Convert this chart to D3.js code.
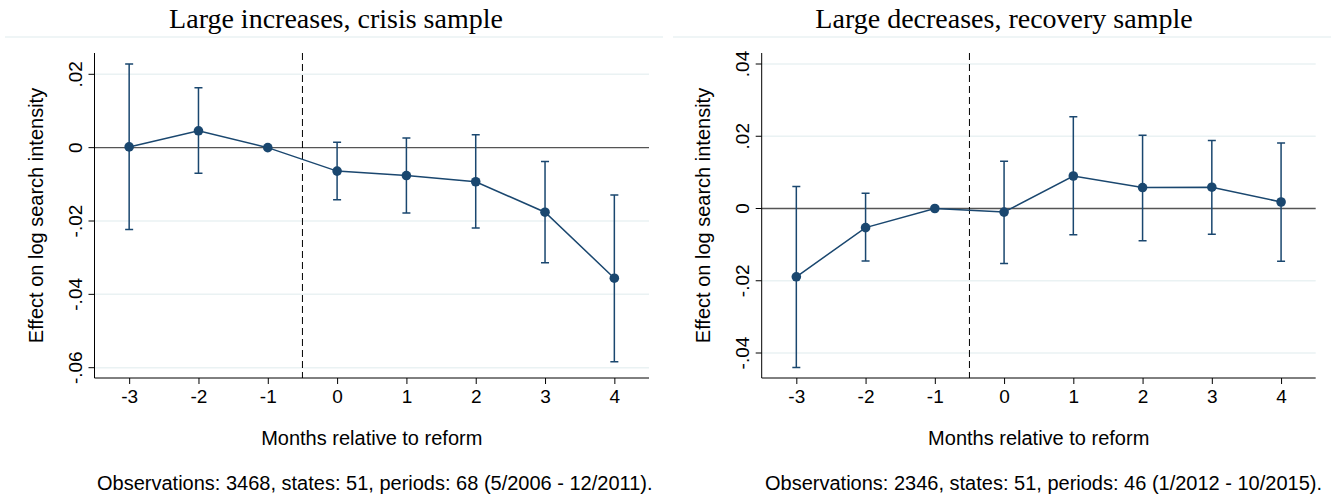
<!DOCTYPE html>
<meta charset="utf-8">
<head>
  <title>Event study: search intensity</title>
</head>
<style>
body { margin: 0; background: #fff; }
text { font-family: "Liberation Sans", Arial, sans-serif; fill: #000; }
.title { font-family: "Liberation Serif", "DejaVu Serif", serif; font-size: 28px; }
.grid { stroke: #eaf2f3; stroke-width: 1.5px; }
.zero { stroke: #555; stroke-width: 1.3px; }
.vline { stroke: #000; stroke-width: 1px; stroke-dasharray: 7,4; }
.ci { stroke: #1a476f; stroke-width: 1.5px; fill: none; }
.coef { stroke: #1a476f; stroke-width: 1.5px; fill: none; }
.dot { fill: #1a476f; }
</style>
<body>
<script src="https://d3js.org/d3.v7.min.js"></script>
<script>
// months relative to reform
var months = [-3, -2, -1, 0, 1, 2, 3, 4]

// large increases, crisis sample
var crisisCoef = [0.0002, 0.0046, 0, -0.0064, -0.0076, -0.0093, -0.0176, -0.0356]
var crisisHi   = [0.0228, 0.0163, null, 0.0015, 0.0026, 0.0035, -0.0038, -0.0129]
var crisisLo   = [-0.0223, -0.0070, null, -0.0142, -0.0178, -0.0219, -0.0314, -0.0584]
var crisisTicks = [0.02, 0, -0.02, -0.04, -0.06]

// large decreases, recovery sample
var recovCoef = [-0.0189, -0.0053, 0, -0.0010, 0.0090, 0.0058, 0.0059, 0.0018]
var recovHi   = [0.0061, 0.0042, null, 0.0131, 0.0254, 0.0203, 0.0188, 0.0181]
var recovLo   = [-0.0440, -0.0145, null, -0.0152, -0.0073, -0.0089, -0.0071, -0.0146]
var recovTicks = [0.04, 0.02, 0, -0.02, -0.04]

var width = 1336, height = 498

var svg = d3.select("body").append("svg")
    .attr("width", width)
    .attr("height", height)

function fmt(v) {
  if (v == 0) return "0"
  return d3.format(".2f")(v).replace("\u2212", "-").replace("0.", ".")
}

function drawPanel(o) {
  var g = svg.append("g").attr("transform", "translate(" + o.dx + ",0)")

  // title + light rule under it
  g.append("text").attr("class", "title")
    .attr("x", o.titleX).attr("y", 28)
    .attr("text-anchor", "middle")
    .text(o.title)
  g.append("line").attr("class", "grid")
    .attr("x1", 5).attr("x2", 663).attr("y1", 37).attr("y2", 37)

  var x = d3.scaleLinear().domain([-3.5, 4.5]).range([o.left, o.right])
  var y = d3.scaleLinear().domain(o.yDom).range(o.yRange)
  var top = 53, bottom = 378

  // gridlines
  g.selectAll(".gl").data(o.ticks.filter(function(t){ return t != 0 }))
    .enter().append("line").attr("class", "grid")
    .attr("x1", o.left).attr("x2", o.right)
    .attr("y1", function(d){ return y(d) }).attr("y2", function(d){ return y(d) })

  // zero line
  g.append("line").attr("class", "zero")
    .attr("x1", o.left).attr("x2", o.right)
    .attr("y1", y(0)).attr("y2", y(0))

  // reform line at -0.5
  g.append("line").attr("class", "vline")
    .attr("x1", x(-0.5)).attr("x2", x(-0.5))
    .attr("y1", top).attr("y2", bottom)

  // axes
  var yAxis = g.append("g").attr("transform", "translate(" + o.left + ",0)")
    .call(d3.axisLeft(y).tickValues(o.ticks).tickFormat(fmt).tickSize(6).tickPadding(3))
  yAxis.select(".domain").attr("d", "M0," + top + "V" + bottom)
  yAxis.selectAll(".tick line").attr("stroke", "#000")
  yAxis.selectAll(".tick text")
    .attr("font-size", 19).attr("font-family", "Liberation Sans, Arial, sans-serif")
    .attr("transform", function(d){ return "translate(-19," + y(d) + ") rotate(-90)" })
    .attr("x", 0).attr("y", 0).attr("dy", "0.35em")
    .attr("text-anchor", "middle")
  yAxis.selectAll(".tick").attr("transform", null)
  yAxis.selectAll(".tick line").attr("y1", function(d){ return y(d) }).attr("y2", function(d){ return y(d) })

  var xAxis = g.append("g").attr("transform", "translate(0," + bottom + ")")
    .call(d3.axisBottom(x).tickValues(months).tickSize(6).tickPadding(6))
  xAxis.select(".domain").attr("d", "M" + o.left + ",0H" + o.right)
  xAxis.selectAll(".tick text").attr("font-size", 19)
    .attr("font-family", "Liberation Sans, Arial, sans-serif")
    .text(function(d){ return d < 0 ? "-" + Math.abs(d) : d })

  // axis titles
  g.append("text")
    .attr("transform", "translate(" + (o.left - 58.5) + "," + ((top + bottom) / 2) + ") rotate(-90)")
    .attr("text-anchor", "middle").attr("dy", "0.35em")
    .attr("font-size", 20)
    .text("Effect on log search intensity")
  g.append("text")
    .attr("x", (o.left + o.right) / 2).attr("y", 445)
    .attr("text-anchor", "middle").attr("font-size", 20)
    .text("Months relative to reform")

  // note
  g.append("text")
    .attr("x", o.noteX).attr("y", 490)
    .attr("font-size", 20)
    .text(o.note)

  // confidence intervals
  var ci = months.map(function(m, i){ return {m: m, lo: o.lo[i], hi: o.hi[i]} })
    .filter(function(d){ return d.lo != null })
  var cap = 4
  g.selectAll(".ci").data(ci).enter().append("path")
    .attr("class", "ci")
    .attr("d", function(d){
      var cx = x(d.m), y0 = y(d.lo), y1 = y(d.hi)
      return "M" + (cx - cap) + "," + y1 + "H" + (cx + cap)
        + "M" + cx + "," + y1 + "V" + y0
        + "M" + (cx - cap) + "," + y0 + "H" + (cx + cap)
    })

  // coefficient line and markers
  var pts = months.map(function(m, i){ return {m: m, v: o.coef[i]} })
  g.append("path").attr("class", "coef")
    .attr("d", d3.line().x(function(d){ return x(d.m) }).y(function(d){ return y(d.v) })(pts))
  g.selectAll(".dot").data(pts).enter().append("circle")
    .attr("class", "dot")
    .attr("cx", function(d){ return x(d.m) })
    .attr("cy", function(d){ return y(d.v) })
    .attr("r", 4.8)
}

drawPanel({
  dx: 0, left: 94.5, right: 649, titleX: 336,
  title: "Large increases, crisis sample",
  yDom: [-0.06, 0.02], yRange: [367.7, 74.3], ticks: crisisTicks,
  coef: crisisCoef, lo: crisisLo, hi: crisisHi,
  noteX: 97,
  note: "Observations: 3468, states: 51, periods: 68 (5/2006 - 12/2011)."
})

drawPanel({
  dx: 668, left: 93.7, right: 647.7, titleX: 336,
  title: "Large decreases, recovery sample",
  yDom: [-0.04, 0.04], yRange: [353, 64], ticks: recovTicks,
  coef: recovCoef, lo: recovLo, hi: recovHi,
  noteX: 97,
  note: "Observations: 2346, states: 51, periods: 46 (1/2012 - 10/2015)."
})
</script>
</body>
